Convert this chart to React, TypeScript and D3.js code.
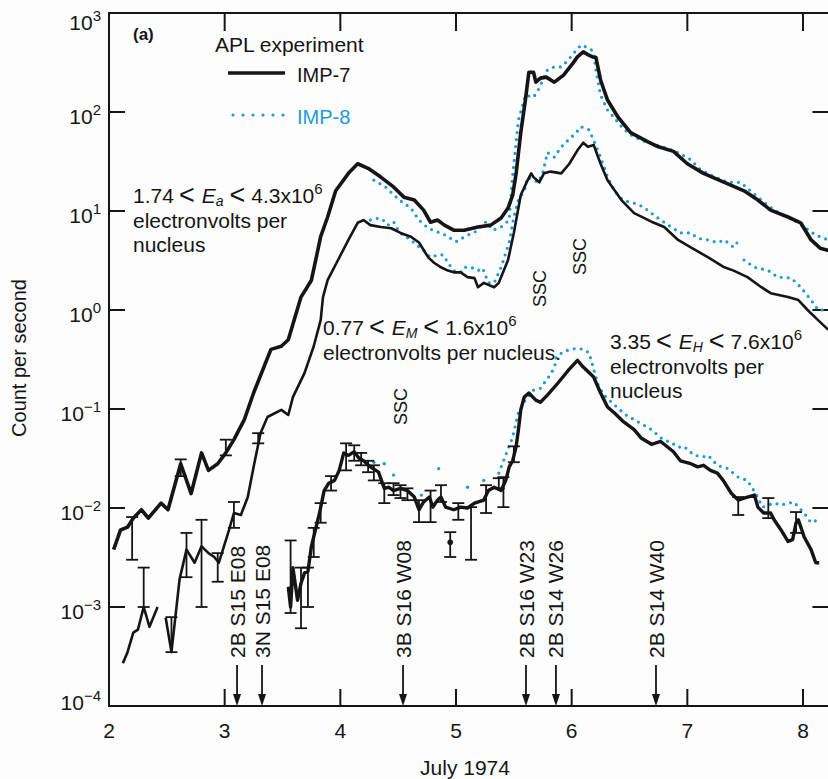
import * as d3 from 'd3'

// July 1974 day-of-month, counts per second
const dayTicks = [2, 3, 4, 5, 6, 7, 8]
const decadeTicks = [3, 2, 1, 0, -1, -2, -3, -4]

// 1.74 < Ea < 4.3 MeV/nucleus
const alphaImp7: [number, number][] = [
  [2.04, 3.8e-3], [2.10, 6.0e-3], [2.16, 6.4e-3], [2.21, 7.9e-3], [2.28, 9.6e-3], [2.34, 7.9e-3],
  [2.45, 1.12e-2], [2.51, 9.6e-3], [2.62, 2.8e-2], [2.71, 1.4e-2], [2.80, 3.6e-2], [2.86, 2.4e-2],
  [2.94, 2.8e-2], [3.01, 3.6e-2], [3.08, 4.9e-2], [3.17, 7.8e-2], [3.25, 0.145], [3.40, 0.40],
  [3.49, 0.43], [3.55, 0.50], [3.66, 1.35], [3.75, 2.0], [3.83, 5.5], [3.89, 8.7], [3.96, 16],
  [4.07, 24], [4.15, 30], [4.24, 27], [4.35, 22], [4.46, 17.5], [4.55, 13.8], [4.64, 12.9],
  [4.72, 10.2], [4.78, 7.7], [4.84, 8.1], [4.90, 7.2], [4.98, 6.4], [5.07, 6.4], [5.19, 6.9],
  [5.30, 7.2], [5.39, 8.5], [5.45, 10.7], [5.49, 14.5], [5.52, 24], [5.56, 62], [5.60, 132],
  [5.63, 252], [5.67, 252], [5.69, 200], [5.73, 220], [5.78, 225], [5.85, 200], [5.93, 236],
  [6.01, 310], [6.05, 360], [6.10, 405], [6.14, 380], [6.18, 360], [6.21, 355], [6.25, 210],
  [6.31, 132], [6.40, 89], [6.51, 62], [6.66, 50], [6.75, 44.5], [6.88, 40], [7.00, 30],
  [7.14, 24], [7.32, 19.5], [7.49, 16], [7.61, 12.9], [7.72, 10.2], [7.87, 8.7], [7.98, 7.6],
  [8.07, 5.1], [8.15, 4.2], [8.22, 4.0],
]
const alphaImp8: [number, number][] = [
  [4.29, 20.5], [4.39, 17.5], [4.51, 12.9], [4.61, 10.7], [4.68, 8.1], [4.76, 6.7], [4.91, 5.7],
  [5.00, 4.9], [5.10, 5.7], [5.17, 6.2], [5.26, 7.8], [5.32, 6.4], [5.39, 6.9], [5.46, 8.1],
  [5.49, 23], [5.54, 83], [5.60, 148], [5.67, 141], [5.71, 166], [5.79, 265], [5.85, 285],
  [5.91, 285], [5.97, 335], [6.02, 395], [6.08, 475], [6.12, 455], [6.17, 425], [6.19, 395],
  [6.21, 265], [6.25, 148], [6.31, 105], [6.37, 87], [6.44, 69], [6.51, 59], [6.60, 52],
  [6.73, 46.5], [6.90, 40], [7.03, 33], [7.10, 27], [7.20, 23], [7.35, 19.5], [7.46, 19.5],
  [7.64, 12.9], [7.75, 10.2], [7.83, 9.1], [7.92, 8.1], [8.01, 6.9], [8.11, 5.7], [8.22, 5.1],
]

// 0.77 < EM < 1.6 MeV/nucleus (NaN = gap in the record)
const mImp7: [number, number][] = [
  [2.12, 2.7e-4], [2.16, 3.5e-4], [2.21, 5.5e-4], [2.25, 5.9e-4], [2.30, 1.0e-3], [2.35, 6.3e-4],
  [2.42, 1.0e-3], [2.46, NaN], [2.49, 7.8e-4], [2.54, 3.5e-4], [2.61, 1.9e-3], [2.67, 3.8e-3],
  [2.74, 2.8e-3], [2.80, 4.1e-3], [2.86, 3.5e-3], [2.91, 3.2e-3], [2.95, 2.8e-3], [3.03, 5.6e-3],
  [3.08, 8.9e-3], [3.14, 8.5e-3], [3.20, 1.29e-2], [3.25, 2.6e-2], [3.31, 5.7e-2], [3.37, 8.3e-2],
  [3.49, 9.8e-2], [3.55, 8.7e-2], [3.59, 0.132], [3.69, 0.23], [3.77, 0.43], [3.83, 0.79],
  [3.85, 1.35], [3.89, 2.0], [3.98, 3.2], [4.07, 5.1], [4.15, 7.6], [4.20, 8.1], [4.26, 7.2],
  [4.35, 6.9], [4.44, 6.7], [4.52, 6.0], [4.61, 5.5], [4.68, 4.8], [4.76, 3.4], [4.81, 3.0],
  [4.87, 2.7], [4.93, 2.5], [4.98, 2.4], [5.04, 2.4], [5.10, 2.15], [5.16, 2.1], [5.19, 1.7],
  [5.24, 1.88], [5.33, 1.7], [5.37, 1.88], [5.45, 3.2], [5.50, 6.0], [5.56, 14.5], [5.62, 20.5],
  [5.65, 24], [5.67, 22], [5.72, 19.5], [5.76, 24], [5.82, 25], [5.91, 24], [5.98, 30],
  [6.05, 41], [6.10, 49], [6.14, 44.5], [6.19, 46.5], [6.25, 30], [6.31, 20.5], [6.43, 12.9],
  [6.54, 9.5], [6.69, 7.8], [6.80, 6.9], [6.92, 5.1], [7.03, 4.3], [7.18, 3.4], [7.32, 2.7],
  [7.40, 2.5], [7.52, 2.15], [7.64, 1.7], [7.72, 1.48], [7.87, 1.35], [7.96, 1.26], [8.04, 1.0],
  [8.13, 0.79], [8.22, 0.63],
]
const mImp8: [number, number][] = [
  [4.26, 8.1], [4.33, 8.5], [4.37, 8.1], [4.41, 7.2], [4.46, 7.8], [4.50, 6.4], [4.54, 5.7],
  [4.59, 5.3], [4.72, 4.0], [4.78, 3.4], [4.84, 3.6], [4.89, 3.6], [4.93, 3.0], [4.98, 2.5],
  [5.04, 2.4], [5.07, 2.7], [5.13, 2.7], [5.19, 2.5], [5.23, 2.65], [5.28, 1.88], [5.33, 1.88],
  [5.39, 2.7], [5.46, 4.8], [5.50, 8.7], [5.54, 12.9], [5.59, 16], [5.62, 22], [5.71, 19.5],
  [5.75, 24], [5.79, 39], [5.85, 35], [5.91, 44.5], [5.97, 52], [6.04, 62], [6.08, 71],
  [6.15, 66], [6.19, 52], [6.25, 35], [6.31, 22], [6.37, 16], [6.44, 12.9], [6.54, 12.0],
  [6.62, 11.0], [6.69, 9.5], [6.77, 8.1], [6.86, 6.9], [6.94, 6.0], [7.03, 6.0], [7.09, 5.3],
  [7.18, 5.1], [7.26, 4.8], [7.32, 5.1], [7.40, 4.3], [7.46, 5.3], [7.47, NaN], [7.49, 3.2],
  [7.58, 2.7], [7.70, 2.5], [7.78, 2.15], [7.90, 2.1], [7.98, 1.7], [8.07, 1.26], [8.13, 1.0],
  [8.22, 1.0],
]

// 3.35 < EH < 7.6 MeV/nucleus
const hImp7: [number, number][] = [
  [3.55, 1.6e-3], [3.57, 1.0e-3], [3.59, 2.5e-3], [3.63, 1.17e-3], [3.66, 1.74e-3], [3.69, 2.2e-3],
  [3.72, 2.3e-3], [3.75, 4.1e-3], [3.77, 5.1e-3], [3.82, 8.9e-3], [3.86, 1.5e-2], [3.90, 1.78e-2],
  [3.95, 1.9e-2], [3.99, 2.4e-2], [4.03, 3.6e-2], [4.07, 3.4e-2], [4.12, 3.7e-2], [4.16, 3.2e-2],
  [4.20, 3.0e-2], [4.26, 2.6e-2], [4.33, 2.3e-2], [4.38, 1.58e-2], [4.42, 1.62e-2], [4.46, 1.5e-2],
  [4.52, 1.58e-2], [4.58, 1.5e-2], [4.64, 1.29e-2], [4.68, 9.6e-3], [4.72, 1.15e-2], [4.77, 1.29e-2],
  [4.80, 1.02e-2], [4.84, 1.2e-2], [4.87, 1.29e-2], [4.91, 1.02e-2], [4.98, 9.6e-3], [5.04, 1.02e-2],
  [5.10, 1.0e-2], [5.16, 1.12e-2], [5.24, 1.2e-2], [5.28, 1.5e-2], [5.33, 1.62e-2], [5.39, 1.5e-2],
  [5.43, 1.9e-2], [5.46, 2.6e-2], [5.49, 3.0e-2], [5.52, 4.2e-2], [5.54, 6.2e-2], [5.56, 9.8e-2],
  [5.59, 0.132], [5.63, 0.145], [5.69, 0.123], [5.73, 0.117], [5.79, 0.138], [5.88, 0.182],
  [5.97, 0.245], [6.05, 0.31], [6.10, 0.265], [6.19, 0.21], [6.25, 0.145], [6.31, 0.105],
  [6.37, 9.1e-2], [6.45, 7.4e-2], [6.54, 6.2e-2], [6.60, 5.1e-2], [6.69, 4.4e-2], [6.77, 4.7e-2],
  [6.88, 3.7e-2], [6.94, 3.0e-2], [7.03, 2.8e-2], [7.09, 2.6e-2], [7.14, 2.7e-2], [7.20, 2.4e-2],
  [7.26, 2.25e-2], [7.31, 1.9e-2], [7.38, 1.41e-2], [7.44, 1.2e-2], [7.49, 1.26e-2], [7.58, 1.35e-2],
  [7.61, 1.02e-2], [7.66, 8.9e-3], [7.72, 8.9e-3], [7.75, 7.6e-3], [7.81, 6.0e-3], [7.87, 4.6e-3],
  [7.91, 4.8e-3], [7.94, 7.1e-3], [7.96, 7.6e-3], [8.01, 5.1e-3], [8.07, 3.8e-3], [8.11, 2.8e-3],
  [8.14, 2.8e-3],
]
const hImp8: [number, number][] = [
  [5.37, 2.25e-2], [5.49, 5.2e-2], [5.54, 9.3e-2], [5.60, 0.123], [5.67, 0.155], [5.73, 0.162],
  [5.80, 0.21], [5.85, 0.26], [5.87, 0.34], [5.93, 0.38], [5.99, 0.40], [6.05, 0.41], [6.10, 0.40],
  [6.15, 0.37], [6.23, 0.174], [6.28, 0.138], [6.40, 0.102], [6.47, 8.7e-2], [6.54, 7.8e-2],
  [6.62, 6.9e-2], [6.69, 6.2e-2], [6.79, 4.9e-2], [6.86, 4.6e-2], [6.92, 4.1e-2], [6.97, 4.2e-2],
  [7.06, 3.4e-2], [7.14, 3.3e-2], [7.18, 3.4e-2], [7.26, 2.7e-2], [7.35, 2.5e-2], [7.44, 2.05e-2],
  [7.52, 1.9e-2], [7.59, 1.41e-2], [7.65, 1.02e-2], [7.75, 1.12e-2], [7.81, 1.07e-2], [7.92, 1.15e-2],
  [8.01, 8.9e-3], [8.07, 7.1e-3], [8.13, 7.6e-3],
]
// scattered IMP-8 H points before the rise
const hImp8Scatter: [number, number][] = [
  [4.29, 2.9e-2], [4.38, 2.8e-2], [4.46, 2.15e-2], [4.70, 1.35e-2], [4.85, 2.5e-2],
  [5.10, 1.62e-2], [5.24, 1.9e-2],
]

// error bars: day, low, high
const errorBars: [number, number, number][] = [
  [2.20, 3.0e-3, 8.1e-3], [2.62, 2.1e-2, 3.1e-2], [3.01, 3.4e-2, 4.9e-2],
  [2.30, 1.0e-3, 2.5e-3], [2.54, 3.5e-4, 7.9e-4], [2.67, 2.0e-3, 5.6e-3], [2.80, 1.0e-3, 7.6e-3],
  [2.94, 1.8e-3, 3.5e-3], [3.08, 6.3e-3, 1.15e-2], [3.29, 4.5e-2, 5.7e-2],
  [3.57, 8.7e-4, 4.7e-3], [3.66, 6.1e-4, 2.5e-3], [3.72, 1.0e-3, 2.5e-3], [3.77, 3.2e-3, 6.3e-3],
  [3.83, 7.1e-3, 1.12e-2], [3.92, 1.5e-2, 2.1e-2], [4.05, 2.4e-2, 4.5e-2], [4.12, 3.0e-2, 4.3e-2],
  [4.18, 2.7e-2, 3.6e-2], [4.24, 2.3e-2, 3.0e-2], [4.29, 1.9e-2, 2.7e-2], [4.38, 1.12e-2, 1.78e-2],
  [4.46, 1.35e-2, 1.78e-2], [4.52, 1.26e-2, 1.7e-2], [4.58, 1.2e-2, 1.58e-2], [4.68, 7.2e-3, 1.2e-2],
  [4.78, 7.2e-3, 1.5e-2], [4.87, 1.15e-2, 1.7e-2], [5.02, 7.6e-3, 1.12e-2], [5.13, 3.0e-3, 1.02e-2],
  [5.26, 8.9e-3, 1.7e-2], [5.37, 1.58e-2, 2.0e-2], [5.41, 1.02e-2, 2.05e-2], [5.50, 2.9e-2, 4.2e-2],
  [7.44, 8.5e-3, 1.29e-2], [7.70, 7.9e-3, 1.26e-2], [7.94, 5.6e-3, 9.1e-3],
]
// lone H point: day, value, low, high
const hLonePoints: [number, number, number, number][] = [[4.95, 4.5e-3, 3.2e-3, 5.7e-3]]

// flares (day, label) and sudden storm commencements (day, label height in counts)
const flareDays = [3.107, 3.323, 4.542, 5.605, 5.864, 6.729]
const flareLabels = ['2B S15 E08', '3N S15 E08', '3B S16 W08', '2B S16 W23', '2B S14 W26', '2B S14 W40']
const sscDays = [4.52, 5.72, 6.07]
const sscLevels = [0.069, 1.07, 2.26]

const BLUE = '#1f9ad6'
const INK = '#151515'
const FONT = '"Liberation Sans", Arial, Helvetica, sans-serif'

const x = d3.scaleLinear().domain([2, 8]).range([109, 803])
const y = d3.scaleLog().domain([1e-4, 1e3]).range([706, 13])
const xRight = x(8.22)

const line = d3.line<[number, number]>()
  .defined(d => !isNaN(d[1]))
  .x(d => x(d[0]))
  .y(d => y(d[1]))

function EnergyLabel({ px, py, lo, sub, hi, lines }: { px: number; py: number; lo: string; sub: string; hi: string; lines: string[] }) {
  return (
    <g fontSize={21} fill={INK}>
      <text x={px} y={py}>
        <tspan>{lo}</tspan>
        <tspan fontSize={27} dx={5} dy={1}>{'<'}</tspan>
        <tspan fontStyle="italic" dx={7} dy={-1}>E</tspan>
        <tspan fontStyle="italic" fontSize={14} dy={3}>{sub}</tspan>
        <tspan fontSize={27} dy={-2} dx={6}>{'<'}</tspan>
        <tspan dx={6} dy={-1}>{hi}</tspan>
        <tspan fontSize={15} dy={-9}>6</tspan>
      </text>
      {lines.map((t, i) => (
        <text key={t} x={px} y={py + 24 * (i + 1) + 1}>{t}</text>
      ))}
    </g>
  )
}

export default function App() {
  const W = 828
  const H = 779
  const left = x(2)
  const top = y(1e3)
  const bottom = y(1e-4)

  return (
    <svg width={W} height={H} style={{ position: 'absolute', left: 0, top: 0, display: 'block' }} fontFamily={FONT}>
      <rect width={W} height={H} fill="#fdfdfe" />

      {/* frame */}
      <path d={`M${xRight},${top}H${left}V${bottom}H${xRight}`} fill="none" stroke={INK} strokeWidth={2} />
      {dayTicks.map(d => (
        <g key={d}>
          <line x1={x(d)} x2={x(d)} y1={bottom} y2={bottom - 17} stroke={INK} strokeWidth={2} />
          {d > 2 && <line x1={x(d)} x2={x(d)} y1={top} y2={top + 18} stroke={INK} strokeWidth={2} />}
          <text x={x(d)} y={738} textAnchor="middle" fontSize={21} fill={INK}>{d}</text>
        </g>
      ))}
      {decadeTicks.map(k => {
        const ty = y(Math.pow(10, k))
        const off = k === 3 ? 17 : k === -4 ? 4 : 12
        return (
          <g key={k}>
            <line x1={left} x2={left + 16} y1={ty} y2={ty} stroke={INK} strokeWidth={2} />
            <line x1={xRight - 16} x2={xRight} y1={ty} y2={ty} stroke={INK} strokeWidth={2} />
            <text x={101} y={ty + off} textAnchor="end" fontSize={21} fill={INK}>
              10<tspan fontSize={15} dy={-9}>{k < 0 ? `\u2212${-k}` : `${k}`}</tspan>
            </text>
          </g>
        )
      })}
      <text x={465} y={775} textAnchor="middle" fontSize={21} fill={INK}>July 1974</text>
      <text transform="translate(26,358) rotate(-90)" textAnchor="middle" fontSize={20} fill={INK}>Count per second</text>

      {/* IMP-8 dotted series */}
      {[alphaImp8, mImp8, hImp8].map((s, i) => (
        <path key={i} d={line(s) ?? ''} fill="none" stroke={BLUE} strokeWidth={3.2}
          strokeDasharray="0 7" strokeLinecap="round" />
      ))}
      {hImp8Scatter.map((d, i) => (
        <circle key={i} cx={x(d[0])} cy={y(d[1])} r={1.7} fill={BLUE} />
      ))}

      {/* error bars */}
      {errorBars.map((e, i) => (
        <g key={i} stroke={INK} strokeWidth={1.8}>
          <line x1={x(e[0])} x2={x(e[0])} y1={y(e[1])} y2={y(e[2])} />
          <line x1={x(e[0]) - 6} x2={x(e[0]) + 6} y1={y(e[1])} y2={y(e[1])} />
          <line x1={x(e[0]) - 6} x2={x(e[0]) + 6} y1={y(e[2])} y2={y(e[2])} />
        </g>
      ))}
      {hLonePoints.map((p, i) => (
        <g key={i} stroke={INK} strokeWidth={1.8}>
          <line x1={x(p[0])} x2={x(p[0])} y1={y(p[2])} y2={y(p[3])} />
          <line x1={x(p[0]) - 6} x2={x(p[0]) + 6} y1={y(p[2])} y2={y(p[2])} />
          <line x1={x(p[0]) - 6} x2={x(p[0]) + 6} y1={y(p[3])} y2={y(p[3])} />
          <circle cx={x(p[0])} cy={y(p[1])} r={2.8} fill={INK} stroke="none" />
        </g>
      ))}

      {/* IMP-7 solid series */}
      <path d={line(alphaImp7) ?? ''} fill="none" stroke={INK} strokeWidth={3.6} strokeLinejoin="round" />
      <path d={line(mImp7) ?? ''} fill="none" stroke={INK} strokeWidth={2.6} strokeLinejoin="round" />
      <path d={line(hImp7) ?? ''} fill="none" stroke={INK} strokeWidth={3.4} strokeLinejoin="round" />

      {/* flare arrows */}
      {flareDays.map((d, i) => {
        const ax = x(d)
        return (
          <g key={d}>
            <line x1={ax} x2={ax} y1={665} y2={698} stroke={INK} strokeWidth={1.8} />
            <path d={`M${ax - 4},${694}L${ax + 4},${694}L${ax},${bottom}Z`} fill={INK} />
            <text transform={`translate(${ax},658) rotate(-90)`} dy="0.36em" fontSize={21} fill={INK}>
              {flareLabels[i]}
            </text>
          </g>
        )
      })}

      {/* SSC marks */}
      {sscDays.map((d, i) => (
        <text key={d} transform={`translate(${x(d)},${y(sscLevels[i])}) rotate(-90)`} dy="0.36em"
          fontSize={18} fill={INK}>SSC</text>
      ))}

      {/* legend */}
      <text x={133} y={40} fontSize={17} fontWeight="bold" fill={INK}>(a)</text>
      <text x={215} y={52} fontSize={21} fill={INK}>APL experiment</text>
      <line x1={228} x2={285} y1={73} y2={73} stroke={INK} strokeWidth={3.6} />
      <text x={297} y={82} fontSize={20} fill={INK}>IMP-7</text>
      <line x1={233} x2={284} y1={115} y2={115} stroke={BLUE} strokeWidth={3.2} strokeDasharray="0 10" strokeLinecap="round" />
      <text x={297} y={124} fontSize={20} fill={BLUE}>IMP-8</text>

      <EnergyLabel px={133} py={203} lo="1.74" sub="a" hi="4.3x10" lines={['electronvolts per', 'nucleus']} />
      <EnergyLabel px={323} py={335} lo="0.77" sub="M" hi="1.6x10" lines={['electronvolts per nucleus.']} />
      <EnergyLabel px={610} py={349} lo="3.35" sub="H" hi="7.6x10" lines={['electronvolts per', 'nucleus']} />
    </svg>
  )
}
